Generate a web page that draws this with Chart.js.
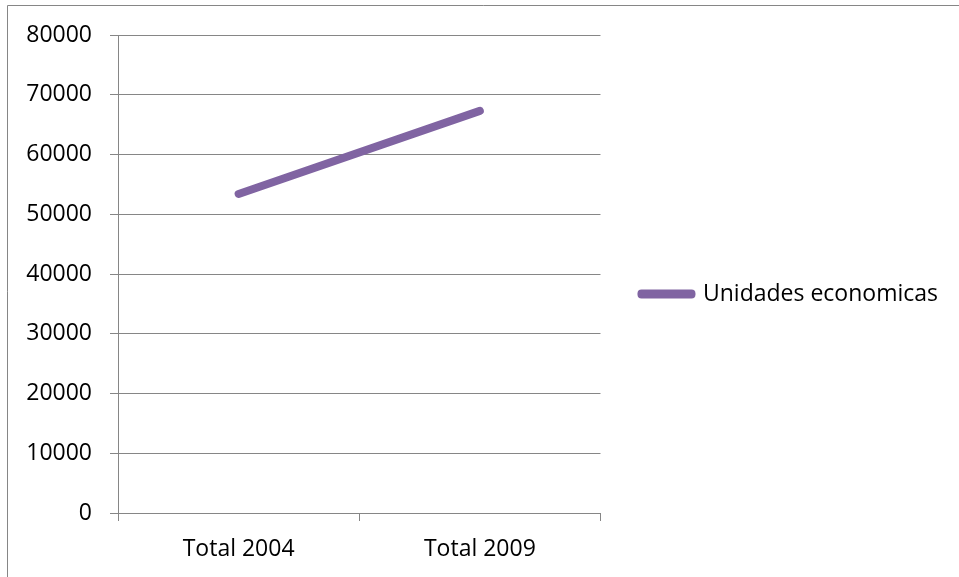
<!DOCTYPE html>
<html>
<head>
<meta charset="utf-8">
<script src="https://cdn.jsdelivr.net/npm/chart.js@4/dist/chart.umd.min.js"></script>
<style>
  html, body { margin: 0; padding: 0; background: #fff; }
  #wrap { width: 959px; height: 577px; }
</style>
</head>
<body>
<div id="wrap"><canvas id="unidades" width="959" height="577"></canvas></div>
<script>
// datos
const categorias = ["Total 2004", "Total 2009"];
const unidades = [53400, 67300];
const serieNombre = "Unidades economicas";
const ejeMax = 80000;
const ejePaso = 10000;

const morado = "#8064A2";
const gris = "#868686";
const fuente = { family: "Open Sans", size: 23 };

// marco del grafico (solo arriba e izquierda) y leyenda un poco mas arriba
const marco = {
  id: "marco",
  afterLayout(chart) {
    chart.legend.top -= 24;
  },
  beforeDraw(chart) {
    const c = chart.ctx;
    c.save();
    c.strokeStyle = gris;
    c.lineWidth = 1;
    c.beginPath();
    c.moveTo(7.5, chart.height);
    c.lineTo(7.5, 5.5);
    c.lineTo(chart.width, 5.5);
    c.stroke();
    c.restore();
  }
};

new Chart(document.getElementById("unidades"), {
  type: "line",
  data: {
    labels: categorias,
    datasets: [{
      label: serieNombre,
      data: unidades,
      borderColor: morado,
      backgroundColor: morado,
      borderWidth: 8,
      borderCapStyle: "round",
      pointRadius: 0,
      pointHoverRadius: 0,
      tension: 0
    }]
  },
  options: {
    responsive: false,
    animation: false,
    layout: { padding: { top: 35, left: 7, right: 11, bottom: 0 } },
    plugins: {
      tooltip: { enabled: false },
      legend: {
        position: "right",
        maxWidth: 359,
        labels: {
          boxWidth: 50,
          boxHeight: 1,
          padding: 41,
          color: "#000",
          font: fuente,
          generateLabels(chart) {
            const items = Chart.defaults.plugins.legend.labels.generateLabels(chart);
            items.forEach(it => {
              it.lineWidth = 8;
              it.lineJoin = "round";
              it.fillStyle = morado;
              it.strokeStyle = morado;
            });
            return items;
          }
        }
      }
    },
    scales: {
      x: {
        offset: true,
        afterFit(scale) { scale.height = 64; },
        grid: { offset: true, drawOnChartArea: false, drawTicks: true, tickLength: 8, color: gris },
        border: { display: true, color: gris },
        ticks: { color: "#000", font: fuente, padding: 15, maxRotation: 0 }
      },
      y: {
        min: 0,
        max: ejeMax,
        afterFit(scale) { scale.width = 111; },
        grid: { color: gris, tickLength: 8 },
        border: { display: true, color: gris },
        ticks: {
          stepSize: ejePaso,
          color: "#000",
          font: fuente,
          padding: 18,
          callback: v => String(v)
        }
      }
    }
  },
  plugins: [marco]
});
</script>
</body>
</html>
